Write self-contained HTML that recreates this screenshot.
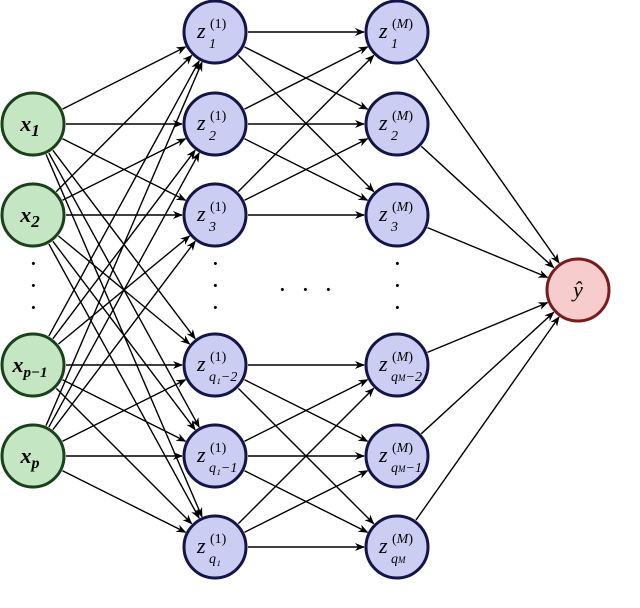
<!DOCTYPE html>
<html><head><meta charset="utf-8"><style>
html,body{margin:0;padding:0;background:#fff;}
svg{display:block;}
text{font-family:"Liberation Serif",serif;font-style:italic;}
</style></head><body>
<svg id="s" width="640" height="608" viewBox="0 0 640 608" xmlns="http://www.w3.org/2000/svg">
<defs><marker id="a" markerWidth="10" markerHeight="8" refX="9" refY="4" orient="auto" markerUnits="userSpaceOnUse"><path d="M0,0 L10,4 L0,8 L3,4 Z" fill="#000"/></marker></defs>
<g id="edges" stroke="#000" stroke-width="1.4" fill="none"></g>
<g id="nodes"></g>
<g font-size="26" fill="#000" style="font-style:normal">
<text x="33" y="272" text-anchor="middle">·</text><text x="33" y="294" text-anchor="middle">·</text><text x="33" y="316" text-anchor="middle">·</text>
<text x="215" y="272" text-anchor="middle">·</text><text x="215" y="294" text-anchor="middle">·</text><text x="215" y="316" text-anchor="middle">·</text>
<text x="397" y="272" text-anchor="middle">·</text><text x="397" y="294" text-anchor="middle">·</text><text x="397" y="316" text-anchor="middle">·</text>
<text x="282" y="298" text-anchor="middle">·</text><text x="305" y="298" text-anchor="middle">·</text><text x="328" y="298" text-anchor="middle">·</text>
</g>
</svg>
<script>
var R=31;
var X=[[33,124],[33,215],[33,365],[33,456]];
var Y=[32,124,215,365,456,547];
var Z1=Y.map(function(y){return [215,y]});
var ZM=Y.map(function(y){return [397,y]});
var O=[578,290];
var E=document.getElementById('edges'),N=document.getElementById('nodes');
var ns="http://www.w3.org/2000/svg";
function edge(a,b){var dx=b[0]-a[0],dy=b[1]-a[1],d=Math.sqrt(dx*dx+dy*dy);
var l=document.createElementNS(ns,'line');
l.setAttribute('x1',a[0]+dx/d*(R+2));l.setAttribute('y1',a[1]+dy/d*(R+2));
l.setAttribute('x2',b[0]-dx/d*(R+2));l.setAttribute('y2',b[1]-dy/d*(R+2));
l.setAttribute('marker-end','url(#a)');E.appendChild(l);}
X.forEach(function(a){Z1.forEach(function(b){edge(a,b);});});
for(var i=0;i<3;i++)for(var j=0;j<3;j++){edge(Z1[i],ZM[j]);edge(Z1[i+3],ZM[j+3]);}
ZM.forEach(function(a){edge(a,O);});
function node(p,fill,stroke,html){var c=document.createElementNS(ns,'circle');
c.setAttribute('cx',p[0]);c.setAttribute('cy',p[1]);c.setAttribute('r',R);
c.setAttribute('fill',fill);c.setAttribute('stroke',stroke);c.setAttribute('stroke-width','3');N.appendChild(c);
var g=document.createElementNS(ns,'g');g.innerHTML=html;N.appendChild(g);}
var xs=['<tspan font-size="17" font-weight="bold">1</tspan>','<tspan font-size="17" font-weight="bold">2</tspan>','<tspan font-size="15" font-weight="bold">p−1</tspan>','<tspan font-size="16" font-weight="bold">p</tspan>'];
X.forEach(function(p,i){node(p,'#c4e6c2','#1a421a','<text x="'+(p[0]-3)+'" y="'+(p[1]+7)+'" text-anchor="middle" font-size="22" font-weight="bold">x<tspan dy="5">'+xs[i].replace(/<tspan/,'<tspan')+'</tspan></text>');});
var sub=['1','2','3','q₁−2','q₁−1','q₁'];
var subM=['1','2','3','q<tspan font-size="9">M</tspan>−2','q<tspan font-size="9">M</tspan>−1','q<tspan font-size="9">M</tspan>'];
function zlab(p,sup,s){return '<text x="'+(p[0]-18)+'" y="'+(p[1]+6)+'" font-size="22">z</text>'+
'<text x="'+(p[0]-5)+'" y="'+(p[1]-4)+'" font-size="14" style="font-style:normal">('+sup+')</text>'+
'<text x="'+(p[0]-6)+'" y="'+(p[1]+16)+'" font-size="14">'+s+'</text>';}
Z1.forEach(function(p,i){node(p,'#cccdf3','#14144a',zlab(p,'1',sub[i]));});
ZM.forEach(function(p,i){node(p,'#cccdf3','#14144a',zlab(p,'<tspan style="font-style:italic">M</tspan>',subM[i]));});
node(O,'#f6cccc','#7a1a1a','<text x="578" y="297" text-anchor="middle" font-size="22">ŷ</text>');
</script>
</body></html>
